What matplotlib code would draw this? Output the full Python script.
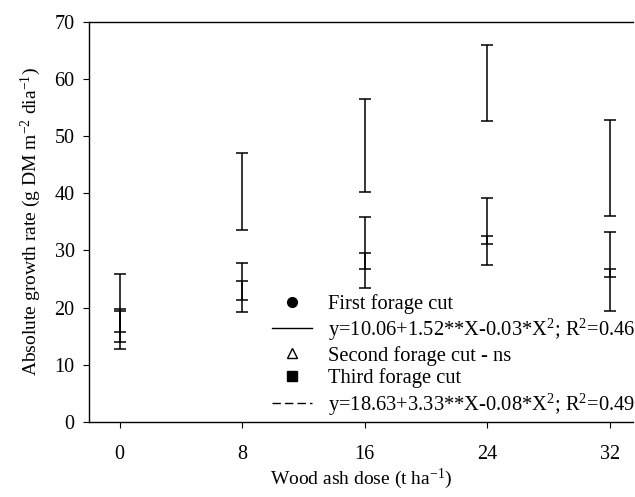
import matplotlib
matplotlib.use("Agg")
import matplotlib.pyplot as plt
from matplotlib.lines import Line2D

plt.rcParams['font.family'] = ['Liberation Serif', 'DejaVu Serif']
plt.rcParams['mathtext.fontset'] = 'custom'
plt.rcParams['mathtext.rm'] = 'Liberation Serif'
plt.rcParams['mathtext.it'] = 'Liberation Serif:italic'

doses = [0, 8, 16, 24, 32]
# error bar ranges (low, high)
first_low = [12.8, 19.3, 23.4, 27.4, 19.5]
first_high = [19.4, 24.7, 29.5, 32.6, 26.7]
second_low = [14.0, 21.4, 26.8, 31.2, 25.3]
second_high = [19.8, 27.8, 35.8, 39.2, 33.2]
third_low = [15.8, 33.6, 40.3, 52.6, 36.1]
third_high = [25.9, 47.0, 56.5, 66.0, 52.8]

legend_labels = [
    "First forage cut",
    "y=10.06+1.52**X-0.03*X$^2$; R$^2$=0.46",
    "Second forage cut - ns",
    "Third forage cut",
    "y=18.63+3.33**X-0.08*X$^2$; R$^2$=0.49",
]

fig = plt.figure(figsize=(6.35, 4.97), dpi=100)
ax = fig.add_axes([0.140, 0.151, 0.857, 0.805])

for lo, hi in [(first_low, first_high), (second_low, second_high), (third_low, third_high)]:
    mid = [(a + b) / 2 for a, b in zip(lo, hi)]
    err = [(b - a) / 2 for a, b in zip(lo, hi)]
    ax.errorbar(doses, mid, yerr=err, fmt='none', ecolor='black',
                elinewidth=1.1, capsize=4.3, capthick=1.1)

ax.set_xlim(-2, 33.5)
ax.set_ylim(0, 70)
ax.set_xticks(doses)
ax.set_yticks(range(0, 71, 10))
ax.spines['right'].set_visible(False)
ax.tick_params(direction='out', labelsize=14.5, length=4.3, width=0.8)
ax.tick_params(axis='y', pad=6)
ax.tick_params(axis='x', pad=12)
for s in ax.spines.values():
    s.set_linewidth(1.0)

ax.set_xlabel("Wood ash dose (t ha$^{-1}$)", fontsize=14, labelpad=2)
ax.set_ylabel("Absolute growth rate (g DM m$^{-2}$ dia$^{-1}$)", fontsize=14, labelpad=8)

handles = [
    Line2D([], [], linestyle='none', marker='o', color='black', markersize=7),
    Line2D([], [], linestyle='-', color='black', linewidth=1.0),
    Line2D([], [], linestyle='none', marker='^', markerfacecolor='white', markeredgecolor='black', markersize=7),
    Line2D([], [], linestyle='none', marker='s', color='black', markersize=6.5),
    Line2D([], [], linestyle=(0, (6, 3)), color='black', linewidth=1.0),
]
ax.legend(handles, legend_labels, loc='lower right', bbox_to_anchor=(1.035, -0.03),
          frameon=False, fontsize=14.8, handlelength=1.95, labelspacing=0.14,
          handletextpad=0.8, borderpad=0.3)

fig.savefig("out.png", dpi=100)
